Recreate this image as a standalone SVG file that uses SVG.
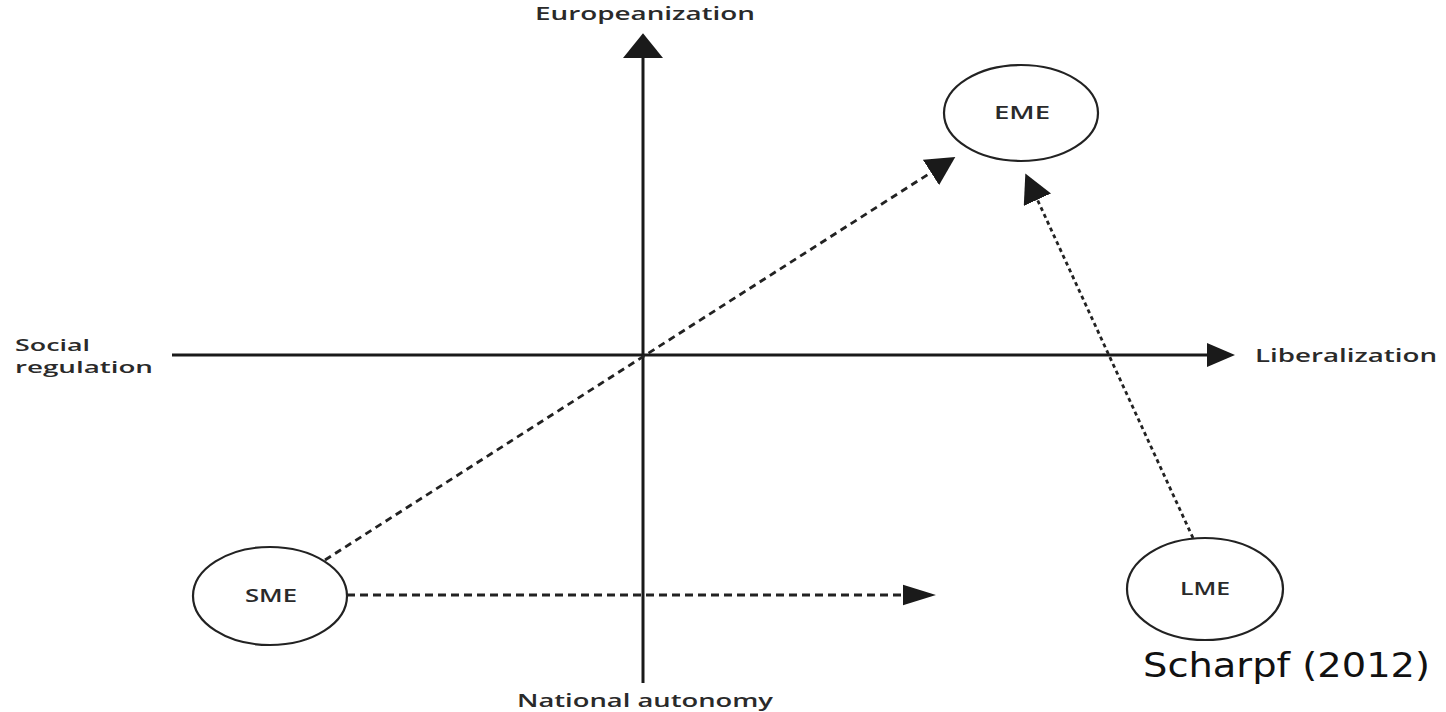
<svg xmlns="http://www.w3.org/2000/svg" width="1446" height="712" viewBox="0 0 1446 712">
<style>
.lbl{font-family:"Open Sans","Noto Sans",sans-serif;font-weight:600;font-size:18px;fill:#2a2a2a}
.sm{font-size:16px}
.node{fill:#fff;stroke:#222;stroke-width:2.2}
.axis{stroke:#1a1a1a;stroke-width:3;fill:none}
.dash{stroke:#222;stroke-width:2.8;fill:none}
</style>
<defs>
<marker id="axH" markerUnits="userSpaceOnUse" markerWidth="30" markerHeight="30" refX="0" refY="12" orient="auto" viewBox="0 0 30 24"><path d="M0,0 L28,12 L0,24 z" fill="#1a1a1a"/></marker>
<marker id="axV" markerUnits="userSpaceOnUse" markerWidth="40" markerHeight="40" refX="0" refY="17" orient="auto" viewBox="0 0 22 34"><path d="M0,0 L21,17 L0,34 z" fill="#1a1a1a"/></marker>
<marker id="dA" markerUnits="userSpaceOnUse" markerWidth="30" markerHeight="30" refX="0" refY="13" orient="auto" viewBox="0 0 26 26"><path d="M0,0 L25,13 L0,26 z" fill="#1a1a1a"/></marker>
<marker id="dH" markerUnits="userSpaceOnUse" markerWidth="34" markerHeight="34" refX="0" refY="10" orient="auto" viewBox="0 0 33 20"><path d="M0,0 L32,10 L0,20 z" fill="#1a1a1a"/></marker>
</defs>
<rect width="1446" height="712" fill="#fff"/>
<g id="connectors">
<line class="axis" x1="643" y1="683" x2="643" y2="58" marker-end="url(#axV)"/>
<line class="axis" x1="172" y1="355" x2="1207" y2="355" marker-end="url(#axH)"/>
<line class="dash" x1="325" y1="560" x2="931" y2="172.5" stroke-dasharray="7 5" marker-end="url(#dA)"/>
<line class="dash" x1="1193" y1="538" x2="1037.4" y2="199.7" stroke-dasharray="4 3.5" marker-end="url(#dA)"/>
<line class="dash" x1="347" y1="595" x2="903" y2="595" stroke-dasharray="8 5" marker-end="url(#dH)"/>
</g>
<g id="axis-labels">
<text class="lbl" x="535" y="20" textLength="220" lengthAdjust="spacingAndGlyphs">Europeanization</text>
<text class="lbl sm" x="15" y="351" textLength="75" lengthAdjust="spacingAndGlyphs">Social</text>
<text class="lbl sm" x="15" y="373" textLength="138" lengthAdjust="spacingAndGlyphs">regulation</text>
<text class="lbl" x="1255" y="362" textLength="182" lengthAdjust="spacingAndGlyphs">Liberalization</text>
<text class="lbl" x="517" y="707" textLength="256" lengthAdjust="spacingAndGlyphs">National autonomy</text>
</g>
<g id="EME">
<ellipse class="node" cx="1021" cy="113" rx="77" ry="48"/>
<text class="lbl" x="1022" y="119" text-anchor="middle" textLength="56" lengthAdjust="spacingAndGlyphs">EME</text>
</g>
<g id="SME">
<ellipse class="node" cx="270" cy="596" rx="77" ry="49"/>
<text class="lbl" x="271" y="602" text-anchor="middle" textLength="52" lengthAdjust="spacingAndGlyphs">SME</text>
</g>
<g id="LME">
<ellipse class="node" cx="1205" cy="589" rx="78" ry="51"/>
<text class="lbl" x="1205" y="595" text-anchor="middle" textLength="50" lengthAdjust="spacingAndGlyphs">LME</text>
</g>
<g id="caption">
<text x="1143" y="677" font-family="DejaVu Sans, sans-serif" font-size="33" fill="#111" textLength="287" lengthAdjust="spacingAndGlyphs">Scharpf (2012)</text>
</g>
</svg>
